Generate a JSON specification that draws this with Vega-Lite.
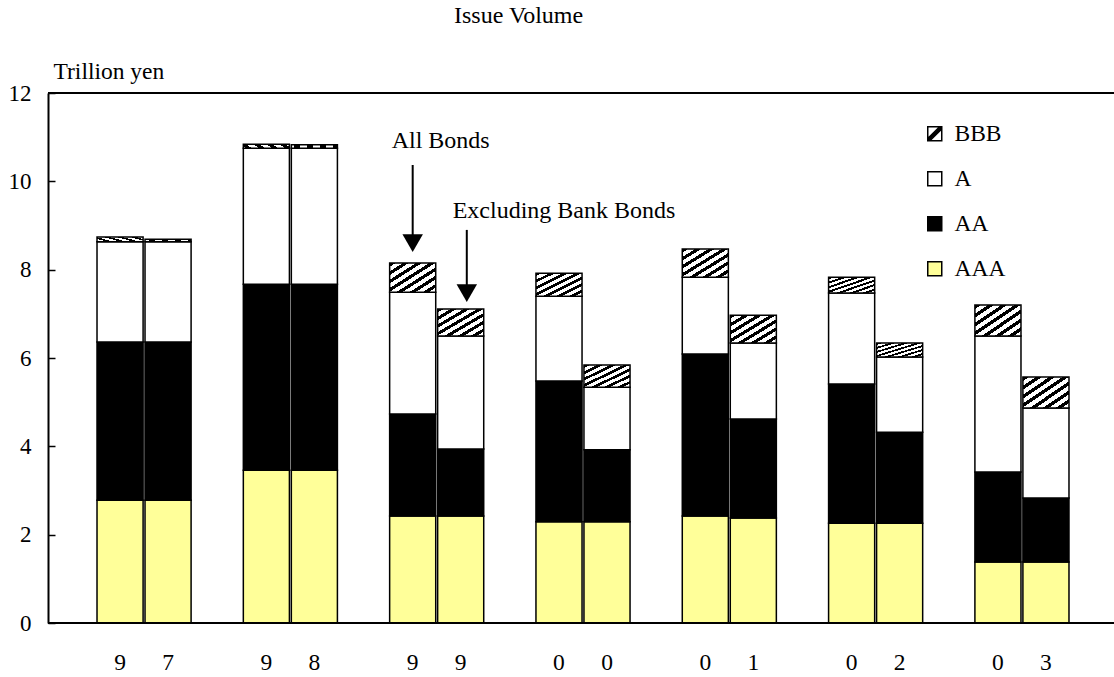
{
  "$schema": "https://vega.github.io/schema/vega-lite/v6.json",
  "width": 1066,
  "height": 530,
  "autosize": "none",
  "padding": {"left": 48, "top": 93, "right": 0, "bottom": 54},
  "background": "white",
  "title": {"text": "Issue Volume", "frame": "group", "anchor": "start", "dx": 406, "offset": 31, "fontSize": 24, "font": "Liberation Serif", "fontWeight": "normal", "color": "black"},
  "data": {"values": [
    {"year": "97", "series": "All", "rating": "AAA", "value": 2.78},
    {"year": "97", "series": "All", "rating": "AA", "value": 3.58},
    {"year": "97", "series": "All", "rating": "A", "value": 2.27},
    {"year": "97", "series": "All", "rating": "BBB", "value": 0.11},
    {"year": "97", "series": "Excl", "rating": "AAA", "value": 2.78},
    {"year": "97", "series": "Excl", "rating": "AA", "value": 3.58},
    {"year": "97", "series": "Excl", "rating": "A", "value": 2.27},
    {"year": "97", "series": "Excl", "rating": "BBB", "value": 0.06},
    {"year": "98", "series": "All", "rating": "AAA", "value": 3.46},
    {"year": "98", "series": "All", "rating": "AA", "value": 4.21},
    {"year": "98", "series": "All", "rating": "A", "value": 3.08},
    {"year": "98", "series": "All", "rating": "BBB", "value": 0.09},
    {"year": "98", "series": "Excl", "rating": "AAA", "value": 3.46},
    {"year": "98", "series": "Excl", "rating": "AA", "value": 4.21},
    {"year": "98", "series": "Excl", "rating": "A", "value": 3.08},
    {"year": "98", "series": "Excl", "rating": "BBB", "value": 0.08},
    {"year": "99", "series": "All", "rating": "AAA", "value": 2.42},
    {"year": "99", "series": "All", "rating": "AA", "value": 2.31},
    {"year": "99", "series": "All", "rating": "A", "value": 2.76},
    {"year": "99", "series": "All", "rating": "BBB", "value": 0.66},
    {"year": "99", "series": "Excl", "rating": "AAA", "value": 2.42},
    {"year": "99", "series": "Excl", "rating": "AA", "value": 1.52},
    {"year": "99", "series": "Excl", "rating": "A", "value": 2.56},
    {"year": "99", "series": "Excl", "rating": "BBB", "value": 0.61},
    {"year": "00", "series": "All", "rating": "AAA", "value": 2.29},
    {"year": "00", "series": "All", "rating": "AA", "value": 3.19},
    {"year": "00", "series": "All", "rating": "A", "value": 1.92},
    {"year": "00", "series": "All", "rating": "BBB", "value": 0.52},
    {"year": "00", "series": "Excl", "rating": "AAA", "value": 2.29},
    {"year": "00", "series": "Excl", "rating": "AA", "value": 1.63},
    {"year": "00", "series": "Excl", "rating": "A", "value": 1.42},
    {"year": "00", "series": "Excl", "rating": "BBB", "value": 0.50},
    {"year": "01", "series": "All", "rating": "AAA", "value": 2.42},
    {"year": "01", "series": "All", "rating": "AA", "value": 3.67},
    {"year": "01", "series": "All", "rating": "A", "value": 1.74},
    {"year": "01", "series": "All", "rating": "BBB", "value": 0.64},
    {"year": "01", "series": "Excl", "rating": "AAA", "value": 2.38},
    {"year": "01", "series": "Excl", "rating": "AA", "value": 2.24},
    {"year": "01", "series": "Excl", "rating": "A", "value": 1.72},
    {"year": "01", "series": "Excl", "rating": "BBB", "value": 0.63},
    {"year": "02", "series": "All", "rating": "AAA", "value": 2.26},
    {"year": "02", "series": "All", "rating": "AA", "value": 3.15},
    {"year": "02", "series": "All", "rating": "A", "value": 2.06},
    {"year": "02", "series": "All", "rating": "BBB", "value": 0.36},
    {"year": "02", "series": "Excl", "rating": "AAA", "value": 2.26},
    {"year": "02", "series": "Excl", "rating": "AA", "value": 2.06},
    {"year": "02", "series": "Excl", "rating": "A", "value": 1.70},
    {"year": "02", "series": "Excl", "rating": "BBB", "value": 0.32},
    {"year": "03", "series": "All", "rating": "AAA", "value": 1.38},
    {"year": "03", "series": "All", "rating": "AA", "value": 2.04},
    {"year": "03", "series": "All", "rating": "A", "value": 3.08},
    {"year": "03", "series": "All", "rating": "BBB", "value": 0.70},
    {"year": "03", "series": "Excl", "rating": "AAA", "value": 1.38},
    {"year": "03", "series": "Excl", "rating": "AA", "value": 1.45},
    {"year": "03", "series": "Excl", "rating": "A", "value": 2.04},
    {"year": "03", "series": "Excl", "rating": "BBB", "value": 0.70}
  ]},
  "layer": [
    {
      "transform": [{"calculate": "indexof(['AAA','AA','A','BBB'], datum.rating)", "as": "stackOrder"}],
      "mark": {"type": "bar", "stroke": "black", "strokeWidth": 1.5},
      "encoding": {
        "x": {"field": "year", "type": "nominal", "sort": null,
          "scale": {"domain": ["97", "98", "99", "00", "01", "02", "03"], "range": [0, 1070], "paddingInner": 0.357, "paddingOuter": 0.335},
          "axis": null},
        "xOffset": {"field": "series", "type": "nominal",
          "scale": {"domain": ["All", "Excl"], "paddingInner": 0.04, "paddingOuter": 0}},
        "y": {"field": "value", "type": "quantitative", "stack": "zero",
          "scale": {"domain": [0, 12], "nice": false},
          "axis": {"values": [0, 2, 4, 6, 8, 10, 12], "grid": false, "domainColor": "black", "domainWidth": 2,
            "tickColor": "black", "tickSize": -7, "tickWidth": 1.5, "labelPadding": 24,
            "labelFont": "Liberation Serif", "labelFontSize": 23, "labelColor": "black",
            "title": "Trillion yen", "titleFont": "Liberation Serif", "titleFontSize": 23.5, "titleFontWeight": "normal", "titleColor": "black",
            "titleAngle": 0, "titleAlign": "left", "titleBaseline": "middle", "titleX": 5, "titleY": -22}},
        "fill": {
          "condition": {"test": "datum.rating === 'BBB'",
            "value": {"gradient": "linear", "x1": 0, "y1": 0, "x2": 1, "y2": 1, "stops": [
                {"offset": 0, "color": "black"}, {"offset": 0.065, "color": "black"}, {"offset": 0.065, "color": "white"}, {"offset": 0.1429, "color": "white"},
                {"offset": 0.1429, "color": "black"}, {"offset": 0.2079, "color": "black"}, {"offset": 0.2079, "color": "white"}, {"offset": 0.2857, "color": "white"},
                {"offset": 0.2857, "color": "black"}, {"offset": 0.3507, "color": "black"}, {"offset": 0.3507, "color": "white"}, {"offset": 0.4286, "color": "white"},
                {"offset": 0.4286, "color": "black"}, {"offset": 0.4936, "color": "black"}, {"offset": 0.4936, "color": "white"}, {"offset": 0.5714, "color": "white"},
                {"offset": 0.5714, "color": "black"}, {"offset": 0.6364, "color": "black"}, {"offset": 0.6364, "color": "white"}, {"offset": 0.7143, "color": "white"},
                {"offset": 0.7143, "color": "black"}, {"offset": 0.7793, "color": "black"}, {"offset": 0.7793, "color": "white"}, {"offset": 0.8571, "color": "white"},
                {"offset": 0.8571, "color": "black"}, {"offset": 0.9221, "color": "black"}, {"offset": 0.9221, "color": "white"}, {"offset": 1, "color": "white"}
              ]}},
          "field": "rating", "type": "nominal",
          "scale": {"domain": ["BBB", "A", "AA", "AAA"], "range": ["white", "white", "black", "#FFFF99"]},
          "legend": {"orient": "none", "legendX": 875, "legendY": 29, "title": null,
            "symbolType": "square", "symbolSize": 196, "symbolStrokeColor": "black", "symbolStrokeWidth": 1.5, "symbolOpacity": 1,
            "labelFont": "Liberation Serif", "labelFontSize": 23.5, "labelColor": "black", "labelOffset": 8, "rowPadding": 20,
            "encode": {"symbols": {"update": {
              "shape": {"signal": "datum.value === 'BBB' ? 'M-1,-1H1V1H-1Z M-1,1L1,-1 M-0.7,1L1,-0.7 M-1,0.7L0.7,-1' : 'square'"},
              "stroke": {"value": "black"},
              "strokeWidth": {"value": 1.5}
            }}}}},
        "order": {"field": "stackOrder", "type": "quantitative"}
      }
    },
    {
      "transform": [
        {"filter": "datum.rating === 'AAA'"},
        {"calculate": "datum.series === 'All' ? substring(datum.year, 0, 1) : substring(datum.year, 1, 2)", "as": "digit"}
      ],
      "mark": {"type": "text", "baseline": "middle", "align": "center", "dy": 40, "font": "Liberation Serif", "fontSize": 23.5, "color": "black"},
      "encoding": {
        "x": {"field": "year", "type": "nominal", "sort": null},
        "xOffset": {"field": "series", "type": "nominal"},
        "y": {"datum": 0, "type": "quantitative"},
        "text": {"field": "digit"}
      }
    },
    {
      "data": {"values": [{}]},
      "mark": {"type": "rule", "color": "black", "strokeWidth": 2},
      "encoding": {"y": {"datum": 12}}
    },
    {
      "data": {"values": [{}]},
      "mark": {"type": "rule", "color": "black", "strokeWidth": 2},
      "encoding": {"y": {"datum": 0}}
    },
    {
      "data": {"values": [{}]},
      "mark": {"type": "rule", "color": "black", "strokeWidth": 2},
      "encoding": {"x": {"datum": "99"}, "xOffset": {"datum": "All"}, "y": {"datum": 10.37}, "y2": {"datum": 8.7}}
    },
    {
      "data": {"values": [{}]},
      "mark": {"type": "point", "shape": "triangle-down", "filled": true, "color": "black", "opacity": 1, "size": 420},
      "encoding": {"x": {"datum": "99"}, "xOffset": {"datum": "All"}, "y": {"datum": 8.6}}
    },
    {
      "data": {"values": [{}]},
      "mark": {"type": "rule", "color": "black", "strokeWidth": 2},
      "encoding": {"x": {"datum": "99", "bandPosition": 0.82}, "y": {"datum": 8.9}, "y2": {"datum": 7.55}}
    },
    {
      "data": {"values": [{}]},
      "mark": {"type": "point", "shape": "triangle-down", "filled": true, "color": "black", "opacity": 1, "size": 420},
      "encoding": {"x": {"datum": "99", "bandPosition": 0.82}, "y": {"datum": 7.47}}
    },
    {
      "data": {"values": [{}]},
      "mark": {"type": "text", "align": "left", "baseline": "middle", "dx": -21, "font": "Liberation Serif", "fontSize": 24, "color": "black", "text": "All Bonds"},
      "encoding": {"x": {"datum": "99"}, "xOffset": {"datum": "All"}, "y": {"datum": 10.91}}
    },
    {
      "data": {"values": [{}]},
      "mark": {"type": "text", "align": "left", "baseline": "middle", "dx": -8, "font": "Liberation Serif", "fontSize": 24, "color": "black", "text": "Excluding Bank Bonds"},
      "encoding": {"x": {"datum": "99"}, "xOffset": {"datum": "Excl"}, "y": {"datum": 9.33}}
    }
  ],
  "config": {
    "font": "Liberation Serif",
    "view": {"stroke": null}
  }
}
